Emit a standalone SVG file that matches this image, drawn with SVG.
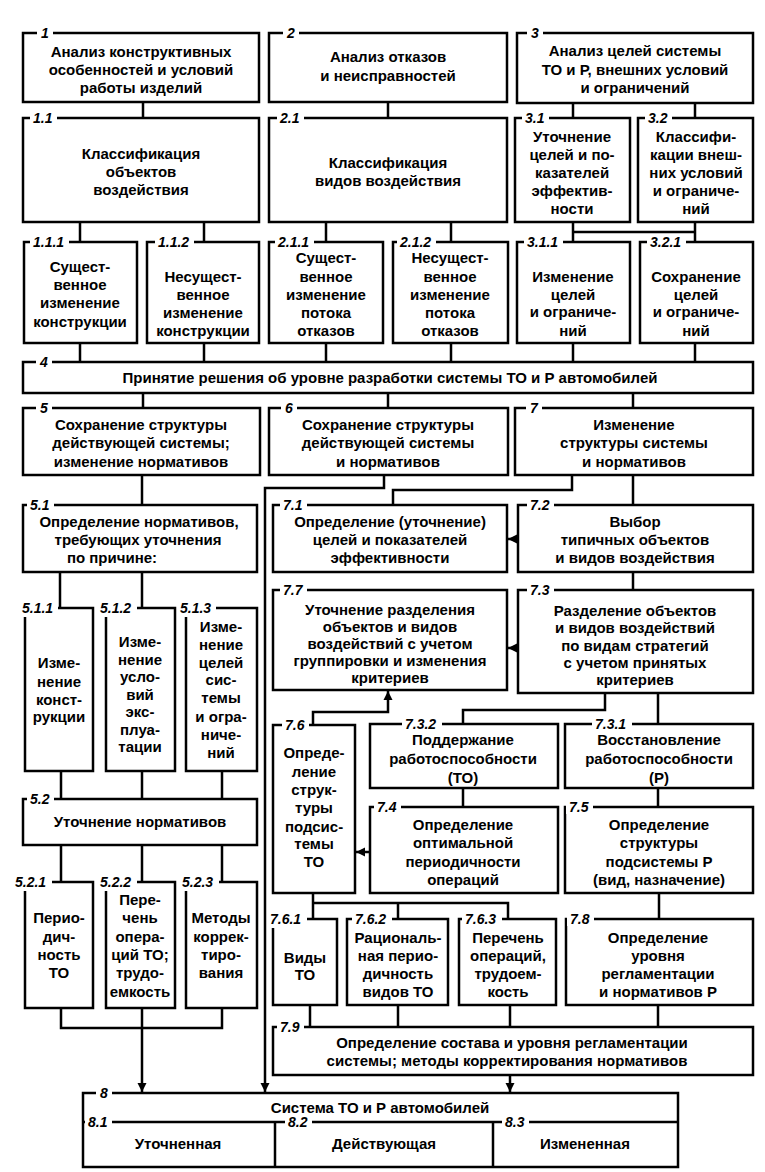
<svg xmlns="http://www.w3.org/2000/svg" width="765" height="1172" viewBox="0 0 765 1172">
<defs>
<style>
.b{fill:#fff;stroke:#000;stroke-width:2.5}
.c{fill:none;stroke:#000;stroke-width:2.5}
.t{font-family:"Liberation Sans",Arial,sans-serif;font-weight:bold;font-size:15px;text-anchor:middle;fill:#000}
.n{font-family:"Liberation Sans",Arial,sans-serif;font-weight:bold;font-style:italic;font-size:14px;fill:#000}
.w{fill:#fff}
</style>
<marker id="ah" viewBox="0 0 10 10" refX="10" refY="5" markerWidth="9" markerHeight="11" markerUnits="userSpaceOnUse" orient="auto"><path d="M0,0 L10,5 L0,10 z" fill="#000"/></marker>
</defs>
<rect width="765" height="1172" fill="#fff"/>
<g id="connectors">
<path class="c" d="M143 102V118M388 102V118M573 103V118M695 103V118"/>
<path class="c" d="M80 222V242M204 222V242M326 222V242M451 222V242M573 222V242M695 222V242M573 232H695"/>
<path class="c" d="M80 343V362M204 343V362M326 343V362M451 343V362M573 343V362M695 343V362"/>
<path class="c" d="M143 393V408M388 393V408M633 393V408"/>
<path class="c" d="M142 475V505"/>
<path class="c" d="M384 475V488H265V1092" marker-end="url(#ah)"/>
<path class="c" d="M572 475V490H393V505M633 475V505"/>
<path class="c" d="M518 539H508" marker-end="url(#ah)"/>
<path class="c" d="M633 572V590"/>
<path class="c" d="M518 648H508" marker-end="url(#ah)"/>
<path class="c" d="M605 693V710H463V724M658 693V724"/>
<path class="c" d="M313 725V712H388V691" marker-end="url(#ah)"/>
<path class="c" d="M463 788V807M658 788V807"/>
<path class="c" d="M370 852H356" marker-end="url(#ah)"/>
<path class="c" d="M313 893V919M313 903H508V919M398 903V919M659 893V919"/>
<path class="c" d="M310 1005V1027M398 1005V1027M510 1005V1027M658 1005V1027"/>
<path class="c" d="M510 1075V1092" marker-end="url(#ah)"/>
<path class="c" d="M60 572V608M142 572V608"/>
<path class="c" d="M61 771V799M142 771V799M222 771V799"/>
<path class="c" d="M61 845V882M142 845V882M222 845V882"/>
<path class="c" d="M61 1008V1028H222V1008"/>
<path class="c" d="M142 1008V1092" marker-end="url(#ah)"/>
</g>
<g id="n1"><rect class="b" x="23" y="33" width="236" height="69"/><rect class="w" x="37" y="26" width="16" height="14"/><text class="n" x="41" y="38">1</text>
<text class="t"><tspan x="141" y="57">Анализ конструктивных</tspan><tspan x="141" y="75">особенностей и условий</tspan><tspan x="141" y="93">работы изделий</tspan></text></g>
<g id="n2"><rect class="b" x="269" y="33" width="238" height="69"/><rect class="w" x="283" y="26" width="16" height="14"/><text class="n" x="287" y="38">2</text>
<text class="t"><tspan x="388" y="62">Анализ отказов</tspan><tspan x="388" y="81">и неисправностей</tspan></text></g>
<g id="n3"><rect class="b" x="517" y="33" width="236" height="70"/><rect class="w" x="527" y="26" width="16" height="14"/><text class="n" x="531" y="38">3</text>
<text class="t"><tspan x="635" y="56">Анализ целей системы</tspan><tspan x="635" y="75">ТО и Р, внешних условий</tspan><tspan x="635" y="93">и ограничений</tspan></text></g>
<g id="n1_1"><rect class="b" x="23" y="118" width="236" height="104"/><rect class="w" x="30" y="111" width="27" height="14"/><text class="n" x="33" y="123">1.1</text>
<text class="t"><tspan x="141" y="159">Классификация</tspan><tspan x="141" y="177">объектов</tspan><tspan x="141" y="195">воздействия</tspan></text></g>
<g id="n2_1"><rect class="b" x="269" y="118" width="238" height="104"/><rect class="w" x="277" y="111" width="27" height="14"/><text class="n" x="280" y="123">2.1</text>
<text class="t"><tspan x="388" y="168">Классификация</tspan><tspan x="388" y="186">видов воздействия</tspan></text></g>
<g id="n3_1"><rect class="b" x="515" y="118" width="115" height="104"/><rect class="w" x="522" y="111" width="27" height="14"/><text class="n" x="525" y="123">3.1</text>
<text class="t"><tspan x="572" y="142">Уточнение</tspan><tspan x="572" y="160">целей и по-</tspan><tspan x="572" y="178">казателей</tspan><tspan x="572" y="196">эффектив-</tspan><tspan x="572" y="214">ности</tspan></text></g>
<g id="n3_2"><rect class="b" x="638" y="118" width="115" height="104"/><rect class="w" x="645" y="111" width="27" height="14"/><text class="n" x="648" y="123">3.2</text>
<text class="t"><tspan x="696" y="142">Классифи-</tspan><tspan x="696" y="160">кации внеш-</tspan><tspan x="696" y="178">них условий</tspan><tspan x="696" y="196">и ограниче-</tspan><tspan x="696" y="214">ний</tspan></text></g>
<g id="n1_1_1"><rect class="b" x="24" y="242" width="113" height="101"/><rect class="w" x="30" y="235" width="39" height="14"/><text class="n" x="33" y="247">1.1.1</text>
<text class="t"><tspan x="80" y="272">Сущест-</tspan><tspan x="80" y="290">венное</tspan><tspan x="80" y="308">изменение</tspan><tspan x="80" y="327">конструкции</tspan></text></g>
<g id="n1_1_2"><rect class="b" x="147" y="242" width="112" height="101"/><rect class="w" x="155" y="235" width="39" height="14"/><text class="n" x="158" y="247">1.1.2</text>
<text class="t"><tspan x="203" y="282">Несущест-</tspan><tspan x="203" y="300">венное</tspan><tspan x="203" y="318">изменение</tspan><tspan x="203" y="336">конструкции</tspan></text></g>
<g id="n2_1_1"><rect class="b" x="269" y="242" width="114" height="101"/><rect class="w" x="275" y="235" width="39" height="14"/><text class="n" x="278" y="247">2.1.1</text>
<text class="t"><tspan x="326" y="263">Сущест-</tspan><tspan x="326" y="282">венное</tspan><tspan x="326" y="300">изменение</tspan><tspan x="326" y="318">потока</tspan><tspan x="326" y="336">отказов</tspan></text></g>
<g id="n2_1_2"><rect class="b" x="393" y="242" width="115" height="101"/><rect class="w" x="397" y="235" width="39" height="14"/><text class="n" x="400" y="247">2.1.2</text>
<text class="t"><tspan x="450" y="263">Несущест-</tspan><tspan x="450" y="282">венное</tspan><tspan x="450" y="300">изменение</tspan><tspan x="450" y="318">потока</tspan><tspan x="450" y="336">отказов</tspan></text></g>
<g id="n3_1_1"><rect class="b" x="517" y="242" width="113" height="101"/><rect class="w" x="524" y="235" width="39" height="14"/><text class="n" x="527" y="247">3.1.1</text>
<text class="t"><tspan x="573" y="282">Изменение</tspan><tspan x="573" y="300">целей</tspan><tspan x="573" y="317">и ограниче-</tspan><tspan x="573" y="336">ний</tspan></text></g>
<g id="n3_2_1"><rect class="b" x="640" y="242" width="113" height="101"/><rect class="w" x="647" y="235" width="39" height="14"/><text class="n" x="650" y="247">3.2.1</text>
<text class="t"><tspan x="696" y="282">Сохранение</tspan><tspan x="696" y="300">целей</tspan><tspan x="696" y="317">и ограниче-</tspan><tspan x="696" y="336">ний</tspan></text></g>
<g id="n4"><rect class="b" x="23" y="362" width="730" height="31"/><rect class="w" x="36" y="355" width="16" height="14"/><text class="n" x="40" y="367">4</text>
<text class="t" x="390" y="383">Принятие решения об уровне разработки системы ТО и Р автомобилей</text></g>
<g id="n5"><rect class="b" x="23" y="408" width="237" height="67"/><rect class="w" x="36" y="401" width="16" height="14"/><text class="n" x="40" y="413">5</text>
<text class="t"><tspan x="141" y="430">Сохранение структуры</tspan><tspan x="141" y="448">действующей системы;</tspan><tspan x="141" y="467">изменение нормативов</tspan></text></g>
<g id="n6"><rect class="b" x="269" y="408" width="239" height="67"/><rect class="w" x="281" y="401" width="16" height="14"/><text class="n" x="285" y="413">6</text>
<text class="t"><tspan x="388" y="430">Сохранение структуры</tspan><tspan x="388" y="448">действующей системы</tspan><tspan x="388" y="467">и нормативов</tspan></text></g>
<g id="n7"><rect class="b" x="515" y="408" width="238" height="67"/><rect class="w" x="526" y="401" width="16" height="14"/><text class="n" x="530" y="413">7</text>
<text class="t"><tspan x="634" y="430">Изменение</tspan><tspan x="634" y="448">структуры системы</tspan><tspan x="634" y="467">и нормативов</tspan></text></g>
<g id="n5_1"><rect class="b" x="23" y="505" width="234" height="67"/><rect class="w" x="27" y="498" width="27" height="14"/><text class="n" x="30" y="510">5.1</text>
<text class="t"><tspan x="139" y="527">Определение нормативов,</tspan><tspan x="138" y="545">требующих уточнения</tspan><tspan x="112" y="563">по причине:</tspan></text></g>
<g id="n7_1"><rect class="b" x="273" y="505" width="234" height="67"/><rect class="w" x="280" y="498" width="27" height="14"/><text class="n" x="283" y="510">7.1</text>
<text class="t"><tspan x="390" y="527">Определение (уточнение)</tspan><tspan x="390" y="545">целей и показателей</tspan><tspan x="390" y="563">эффективности</tspan></text></g>
<g id="n7_2"><rect class="b" x="518" y="505" width="235" height="67"/><rect class="w" x="527" y="498" width="27" height="14"/><text class="n" x="530" y="510">7.2</text>
<text class="t"><tspan x="635" y="527">Выбор</tspan><tspan x="635" y="545">типичных объектов</tspan><tspan x="635" y="563">и видов воздействия</tspan></text></g>
<g id="n5_1_1"><rect class="b" x="25" y="608" width="68" height="163"/><rect class="w" x="19" y="600" width="39" height="17"/><text class="n" x="22" y="613">5.1.1</text>
<text class="t"><tspan x="59" y="668">Изме-</tspan><tspan x="59" y="687">нение</tspan><tspan x="59" y="705">конст-</tspan><tspan x="59" y="722">рукции</tspan></text></g>
<g id="n5_1_2"><rect class="b" x="106" y="608" width="69" height="163"/><rect class="w" x="97" y="600" width="40" height="17"/><text class="n" x="100" y="613">5.1.2</text>
<text class="t"><tspan x="140" y="647">Изме-</tspan><tspan x="140" y="665">нение</tspan><tspan x="140" y="682">усло-</tspan><tspan x="140" y="700">вий</tspan><tspan x="140" y="717">экс-</tspan><tspan x="140" y="735">плуа-</tspan><tspan x="140" y="752">тации</tspan></text></g>
<g id="n5_1_3"><rect class="b" x="186" y="608" width="71" height="163"/><rect class="w" x="177" y="600" width="39" height="17"/><text class="n" x="180" y="613">5.1.3</text>
<text class="t"><tspan x="221" y="632">Изме-</tspan><tspan x="221" y="650">нение</tspan><tspan x="221" y="668">целей</tspan><tspan x="221" y="685">сис-</tspan><tspan x="221" y="703">темы</tspan><tspan x="221" y="722">и огра-</tspan><tspan x="221" y="740">ниче-</tspan><tspan x="221" y="758">ний</tspan></text></g>
<g id="n7_7"><rect class="b" x="273" y="590" width="234" height="100"/><rect class="w" x="280" y="583" width="27" height="14"/><text class="n" x="283" y="595">7.7</text>
<text class="t"><tspan x="390" y="615">Уточнение разделения</tspan><tspan x="390" y="632">объектов и видов</tspan><tspan x="390" y="649">воздействий с учетом</tspan><tspan x="390" y="666">группировки и изменения</tspan><tspan x="390" y="683">критериев</tspan></text></g>
<g id="n7_3"><rect class="b" x="518" y="590" width="235" height="103"/><rect class="w" x="527" y="583" width="27" height="14"/><text class="n" x="530" y="595">7.3</text>
<text class="t"><tspan x="635" y="616">Разделение объектов</tspan><tspan x="635" y="633">и видов воздействий</tspan><tspan x="635" y="651">по видам стратегий</tspan><tspan x="635" y="668">с учетом принятых</tspan><tspan x="635" y="685">критериев</tspan></text></g>
<g id="n7_6"><rect class="b" x="273" y="725" width="82" height="168"/><rect class="w" x="282" y="718" width="27" height="14"/><text class="n" x="285" y="730">7.6</text>
<text class="t"><tspan x="314" y="758">Опреде-</tspan><tspan x="314" y="777">ление</tspan><tspan x="314" y="795">струк-</tspan><tspan x="314" y="813">туры</tspan><tspan x="314" y="832">подсис-</tspan><tspan x="314" y="849">темы</tspan><tspan x="314" y="867">ТО</tspan></text></g>
<g id="n7_3_2"><rect class="b" x="370" y="724" width="188" height="64"/><rect class="w" x="402" y="717" width="40" height="14"/><text class="n" x="405" y="729">7.3.2</text>
<text class="t"><tspan x="463" y="745">Поддержание</tspan><tspan x="463" y="764">работоспособности</tspan><tspan x="463" y="783">(ТО)</tspan></text></g>
<g id="n7_3_1"><rect class="b" x="565" y="724" width="188" height="64"/><rect class="w" x="592" y="717" width="40" height="14"/><text class="n" x="595" y="729">7.3.1</text>
<text class="t"><tspan x="659" y="745">Восстановление</tspan><tspan x="659" y="764">работоспособности</tspan><tspan x="659" y="783">(Р)</tspan></text></g>
<g id="n7_4"><rect class="b" x="370" y="807" width="188" height="86"/><rect class="w" x="374" y="800" width="27" height="14"/><text class="n" x="377" y="812">7.4</text>
<text class="t"><tspan x="463" y="830">Определение</tspan><tspan x="463" y="848">оптимальной</tspan><tspan x="463" y="867">периодичности</tspan><tspan x="463" y="885">операций</tspan></text></g>
<g id="n7_5"><rect class="b" x="565" y="807" width="188" height="86"/><rect class="w" x="566" y="800" width="27" height="14"/><text class="n" x="569" y="812">7.5</text>
<text class="t"><tspan x="659" y="830">Определение</tspan><tspan x="659" y="848">структуры</tspan><tspan x="659" y="867">подсистемы Р</tspan><tspan x="659" y="885">(вид, назначение)</tspan></text></g>
<g id="n5_2"><rect class="b" x="23" y="799" width="234" height="46"/><rect class="w" x="27" y="792" width="27" height="14"/><text class="n" x="30" y="804">5.2</text>
<text class="t" x="140" y="827">Уточнение нормативов</text></g>
<g id="n5_2_1"><rect class="b" x="25" y="882" width="68" height="126"/><rect class="w" x="12" y="874" width="40" height="17"/><text class="n" x="15" y="887">5.2.1</text>
<text class="t"><tspan x="59" y="923">Перио-</tspan><tspan x="59" y="942">дич-</tspan><tspan x="59" y="960">ность</tspan><tspan x="59" y="978">ТО</tspan></text></g>
<g id="n5_2_2"><rect class="b" x="106" y="882" width="69" height="126"/><rect class="w" x="97" y="874" width="40" height="17"/><text class="n" x="100" y="887">5.2.2</text>
<text class="t"><tspan x="140" y="905">Пере-</tspan><tspan x="140" y="923">чень</tspan><tspan x="140" y="942">опера-</tspan><tspan x="140" y="960">ций ТО;</tspan><tspan x="140" y="978">трудо-</tspan><tspan x="140" y="997">емкость</tspan></text></g>
<g id="n5_2_3"><rect class="b" x="186" y="882" width="71" height="126"/><rect class="w" x="179" y="874" width="40" height="17"/><text class="n" x="182" y="887">5.2.3</text>
<text class="t"><tspan x="221" y="923">Методы</tspan><tspan x="221" y="942">коррек-</tspan><tspan x="221" y="960">тиро-</tspan><tspan x="221" y="978">вания</tspan></text></g>
<g id="n7_6_1"><rect class="b" x="273" y="919" width="64" height="86"/><rect class="w" x="267" y="911" width="40" height="17"/><text class="n" x="270" y="924">7.6.1</text>
<text class="t"><tspan x="305" y="963">Виды</tspan><tspan x="305" y="980">ТО</tspan></text></g>
<g id="n7_6_2"><rect class="b" x="347" y="919" width="101" height="86"/><rect class="w" x="352" y="912" width="40" height="14"/><text class="n" x="355" y="924">7.6.2</text>
<text class="t"><tspan x="398" y="943">Рациональ-</tspan><tspan x="398" y="961">ная перио-</tspan><tspan x="398" y="979">дичность</tspan><tspan x="398" y="997">видов ТО</tspan></text></g>
<g id="n7_6_3"><rect class="b" x="459" y="919" width="97" height="86"/><rect class="w" x="462" y="912" width="40" height="14"/><text class="n" x="465" y="924">7.6.3</text>
<text class="t"><tspan x="508" y="943">Перечень</tspan><tspan x="508" y="961">операций,</tspan><tspan x="508" y="979">трудоем-</tspan><tspan x="508" y="997">кость</tspan></text></g>
<g id="n7_8"><rect class="b" x="566" y="919" width="187" height="86"/><rect class="w" x="567" y="912" width="27" height="14"/><text class="n" x="570" y="924">7.8</text>
<text class="t"><tspan x="658" y="943">Определение</tspan><tspan x="658" y="961">уровня</tspan><tspan x="658" y="979">регламентации</tspan><tspan x="658" y="997">и нормативов Р</tspan></text></g>
<g id="n7_9"><rect class="b" x="273" y="1027" width="480" height="48"/><rect class="w" x="277" y="1020" width="27" height="14"/><text class="n" x="280" y="1032">7.9</text>
<text class="t"><tspan x="512" y="1048">Определение состава и уровня регламентации</tspan><tspan x="507" y="1066">системы; методы корректирования нормативов</tspan></text></g>
<g id="n8"><rect class="b" x="83" y="1093" width="595" height="74"/><path class="c" d="M83 1122H678M275 1122V1167M493 1122V1167"/>
<rect class="w" x="96" y="1086" width="16" height="14"/><text class="n" x="100" y="1098">8</text>
<text class="t" x="380" y="1113">Система ТО и Р автомобилей</text>
<rect class="w" x="85" y="1115" width="27" height="14"/><text class="n" x="88" y="1127">8.1</text>
<rect class="w" x="285" y="1115" width="27" height="14"/><text class="n" x="288" y="1127">8.2</text>
<rect class="w" x="502" y="1115" width="27" height="14"/><text class="n" x="505" y="1127">8.3</text>
<text class="t" x="178" y="1149">Уточненная</text><text class="t" x="384" y="1149">Действующая</text><text class="t" x="585" y="1149">Измененная</text></g>
</svg>
